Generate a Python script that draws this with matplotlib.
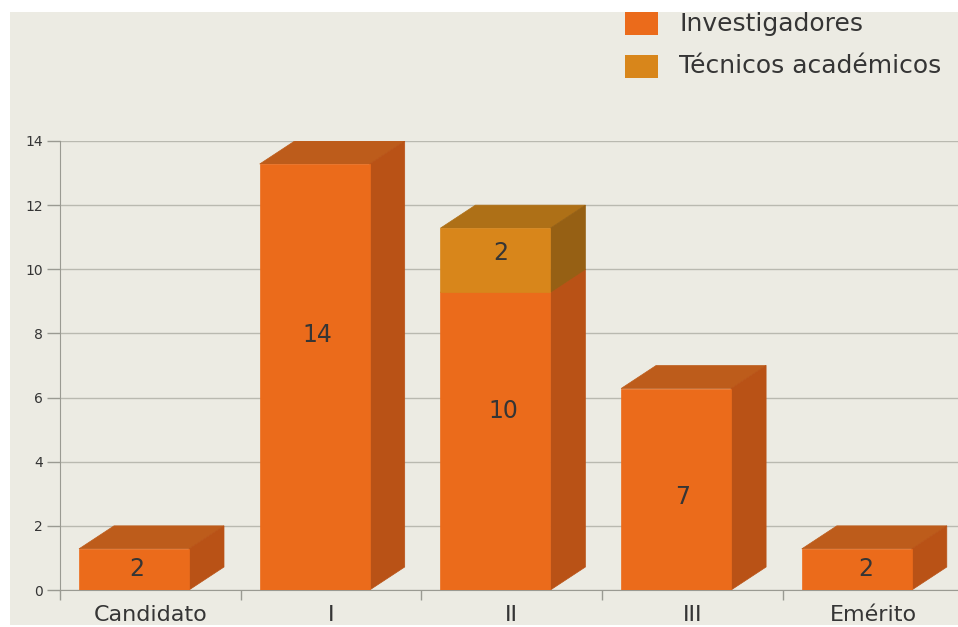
import numpy as np
import matplotlib
matplotlib.use('Agg')
import matplotlib.pyplot as plt
from matplotlib.patches import Polygon, Rectangle

categories = ['Candidato', 'I', 'II', 'III', 'Emérito']
investigadores = [2, 14, 10, 7, 2]
tecnicos = [0, 0, 2, 0, 0]
y_ticks = [0, 2, 4, 6, 8, 10, 12, 14]

# where the numbers sit on the bars, in data units (not centred in the original)
inv_label_y = [0.66, 7.95, 5.58, 2.9, 0.66]
tec_label_y = [0, 0, 10.5, 0, 0]
# and their sideways nudge from the middle of the bar, in pixels
inv_label_dx = [3, 3, 8, 7, 9]
tec_label_dx = [0, 0, 5, 0, 0]

W, H = 958, 627
BG = '#ecebe3'
GRID = '#b9b9b0'
TXT = '#353535'
ORANGE = ('#eb6b1b', '#bd5c1b', '#b95216')
AMBER = ('#d8861b', '#ae7017', '#966014')

# 3d look of the bars
DX = 35 / 180.7
DY = 23 / 32.07
BAR_W = 110 / 180.7
BAR_OFF = -0.5 + 19 / 180.7


def px(x0, y0, x1, y1):
    # pixel box (top-left origin) to figure fractions
    return [x0 / W, 1 - y1 / H, (x1 - x0) / W, (y1 - y0) / H]


def block(ax, i, low, high, cols, base=False):
    left = i + BAR_OFF
    right = left + BAR_W
    front_low = low if base else low - DY
    front_top = high - DY
    ax.add_patch(Polygon([(left, front_top), (right, front_top),
                          (right + DX, high), (left + DX, high)],
                         fc=cols[1], ec=cols[1], lw=0.5, zorder=3))
    ax.add_patch(Polygon([(right, front_low), (right + DX, front_low + DY),
                          (right + DX, high), (right, front_top)],
                         fc=cols[2], ec=cols[2], lw=0.5, zorder=3))
    ax.bar(left, front_top - front_low, BAR_W, bottom=front_low, align='edge',
           color=cols[0], ec=cols[0], lw=0.5, zorder=3.5)


fig = plt.figure(figsize=(W / 100, H / 100), dpi=100, facecolor='white')
fig.add_artist(Rectangle((10 / W, 1 - 625 / H), 948 / W, 613 / H,
                         transform=fig.transFigure, color=BG, lw=0, zorder=-5))

ax = fig.add_axes(px(60, 141, 958, 590))
ax.patch.set_alpha(0)
ax.set_xlim(-0.5, -0.5 + 898 / 180.7)
ax.set_ylim(0, 14)

for i in range(len(categories)):
    block(ax, i, 0, investigadores[i], ORANGE, base=True)
    if tecnicos[i]:
        block(ax, i, investigadores[i], investigadores[i] + tecnicos[i], AMBER)
    cx = i + BAR_OFF + BAR_W / 2
    ax.text(cx + inv_label_dx[i] / 180.7, inv_label_y[i], str(investigadores[i]),
            ha='center', va='center', fontsize=17, color=TXT, zorder=4)
    if tecnicos[i]:
        ax.text(cx + tec_label_dx[i] / 180.7, tec_label_y[i], str(tecnicos[i]),
                ha='center', va='center', fontsize=17, color=TXT, zorder=4)

ax.set_yticks(y_ticks)
ax.yaxis.grid(True, color=GRID, lw=1, zorder=1)
ax.set_axisbelow(True)
ax.tick_params(axis='y', length=9.5, width=1, color='#9a9a92', labelsize=10,
               labelcolor=TXT, pad=3)
ax.set_xticks(np.arange(len(categories)) - 0.5)
ax.set_xticklabels([])
ax.tick_params(axis='x', length=7.5, width=1, color='#9a9a92')
for i, c in enumerate(categories):
    ax.annotate(c, (i, 0), xytext=(0, -18), textcoords='offset points',
                xycoords=('data', 'axes fraction'), ha='center', va='center',
                fontsize=16, color=TXT, annotation_clip=False)

for s in ['top', 'right']:
    ax.spines[s].set_visible(False)
ax.spines['bottom'].set_color('#9a9a92')
ax.spines['left'].set_color('#9a9a92')
ax.spines['left'].set_bounds(0, 14)

# legend, drawn by hand since it is cut by the edge of the picture
fig.add_artist(Rectangle((625 / W, 1 - 35 / H), 33 / W, 23 / H,
                         transform=fig.transFigure, color=ORANGE[0], lw=0))
fig.add_artist(Rectangle((625 / W, 1 - 78 / H), 33 / W, 23 / H,
                         transform=fig.transFigure, color=AMBER[0], lw=0))
fig.text(679 / W, 1 - 24 / H, 'Investigadores', fontsize=18, color=TXT, va='center')
fig.text(679 / W, 1 - 66 / H, 'Técnicos académicos', fontsize=18, color=TXT, va='center')

fig.savefig('out.png', dpi=100)
